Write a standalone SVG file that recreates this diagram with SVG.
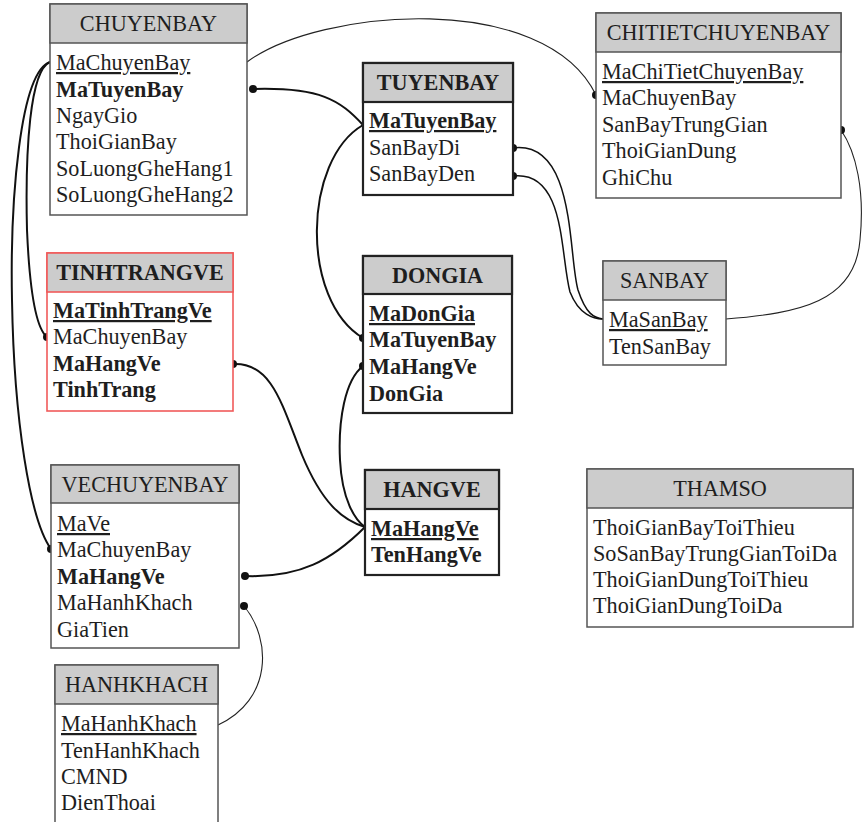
<svg xmlns="http://www.w3.org/2000/svg" width="863" height="822" viewBox="0 0 863 822">
  <defs>
    <style>
      .box { fill: #ffffff; stroke: #555555; stroke-width: 1.5; }
      .box.strong { stroke: #222222; stroke-width: 2.2; }
      .box.red { stroke: #f05a5a; stroke-width: 1.6; }
      .head { fill: #cccccc; stroke: #555555; stroke-width: 1.5; }
      .head.strong { stroke: #222222; stroke-width: 2.2; }
      .head.red { stroke: #f05a5a; stroke-width: 1.6; }
      text { font-family: "Liberation Serif", "Times New Roman", serif; font-size: 22.2px; fill: #1e1e1e; }
      .title { text-anchor: middle; }
      .b { font-weight: bold; }
      .u { text-decoration: underline; }
      .fk { fill: none; stroke: #111111; stroke-width: 2; }
      .thin { fill: none; stroke: #222222; stroke-width: 1.1; }
      .mid { fill: none; stroke: #111111; stroke-width: 1.5; }
      .dot { fill: #111111; }
    </style>
  </defs>

  <!-- relationships -->
  <g id="connectors">
    <path class="thin" d="M247,62 C320,8 545,-10 596,95"/>
    <path class="fk" d="M253,89 C320,87 340,100 363,125"/>
    <path class="fk" d="M363,125 C303,160 300,300 363,338"/>
    <path class="mid" d="M513,148 C576,140 568,255 578,290 C586,314 594,318 603,319"/>
    <path class="mid" d="M513,176 C566,170 560,255 570,292 C579,315 594,319 603,319"/>
    <path class="thin" d="M726,319 C800,313 855,302 860,240 C865,190 856,152 841,130"/>
    <path class="fk" d="M50,62 C30,70 25,150 27,230 C30,300 38,330 47,337"/>
    <path class="fk" d="M50,62 C20,72 10,200 12,300 C14,420 30,520 51,549"/>
    <path class="fk" d="M233,364 C272,362 282,405 302,455 C322,503 342,520 365,527"/>
    <path class="fk" d="M363,366 C345,380 338,420 340,460 C342,500 355,520 365,527"/>
    <path class="fk" d="M245,576 C300,578 332,560 365,527"/>
    <path class="thin" d="M244,606 C272,640 272,700 218,725"/>
    <circle class="dot" cx="253" cy="89" r="4"/>
    <circle class="dot" cx="596" cy="95" r="4"/>
    <circle class="dot" cx="363" cy="338" r="4"/>
    <circle class="dot" cx="513" cy="148" r="4"/>
    <circle class="dot" cx="513" cy="176" r="4"/>
    <circle class="dot" cx="841" cy="130" r="4"/>
    <circle class="dot" cx="47" cy="337" r="4"/>
    <circle class="dot" cx="51" cy="549" r="4"/>
    <circle class="dot" cx="233" cy="364" r="4"/>
    <circle class="dot" cx="363" cy="366" r="4"/>
    <circle class="dot" cx="245" cy="576" r="4"/>
    <circle class="dot" cx="244" cy="606" r="4"/>
  </g>

  <g id="CHUYENBAY">
    <rect class="box" x="50" y="4" width="197" height="211"/>
    <rect class="head" x="50" y="4" width="197" height="39"/>
    <text class="title" x="148.5" y="31">CHUYENBAY</text>
    <text class="u" x="56" y="70">MaChuyenBay</text>
    <text class="b" x="56" y="97">MaTuyenBay</text>
    <text x="56" y="123">NgayGio</text>
    <text x="56" y="149">ThoiGianBay</text>
    <text x="56" y="176">SoLuongGheHang1</text>
    <text x="56" y="202">SoLuongGheHang2</text>
  </g>

  <g id="TUYENBAY">
    <rect class="box strong" x="363" y="63" width="150" height="132"/>
    <rect class="head strong" x="363" y="63" width="150" height="39"/>
    <text class="title b" x="438" y="90">TUYENBAY</text>
    <text class="b u" x="369" y="128">MaTuyenBay</text>
    <text x="369" y="155">SanBayDi</text>
    <text x="369" y="181">SanBayDen</text>
  </g>

  <g id="CHITIETCHUYENBAY">
    <rect class="box" x="596" y="13" width="245" height="185"/>
    <rect class="head" x="596" y="13" width="245" height="39"/>
    <text class="title" x="718.5" y="40">CHITIETCHUYENBAY</text>
    <text class="u" x="602" y="79">MaChiTietChuyenBay</text>
    <text x="602" y="105">MaChuyenBay</text>
    <text x="602" y="132">SanBayTrungGian</text>
    <text x="602" y="158">ThoiGianDung</text>
    <text x="602" y="185">GhiChu</text>
  </g>

  <g id="TINHTRANGVE">
    <rect class="box red" x="47" y="253" width="186" height="158"/>
    <rect class="head red" x="47" y="253" width="186" height="39"/>
    <text class="title b" x="140" y="280">TINHTRANGVE</text>
    <text class="b u" x="53" y="318">MaTinhTrangVe</text>
    <text x="53" y="344">MaChuyenBay</text>
    <text class="b" x="53" y="371">MaHangVe</text>
    <text class="b" x="53" y="397">TinhTrang</text>
  </g>

  <g id="DONGIA">
    <rect class="box strong" x="363" y="256" width="149" height="157"/>
    <rect class="head strong" x="363" y="256" width="149" height="38"/>
    <text class="title b" x="437.5" y="283">DONGIA</text>
    <text class="b u" x="369" y="321">MaDonGia</text>
    <text class="b" x="369" y="347">MaTuyenBay</text>
    <text class="b" x="369" y="374">MaHangVe</text>
    <text class="b" x="369" y="401">DonGia</text>
  </g>

  <g id="SANBAY">
    <rect class="box" x="603" y="261" width="123" height="104"/>
    <rect class="head" x="603" y="261" width="123" height="39"/>
    <text class="title" x="664.5" y="288">SANBAY</text>
    <text class="u" x="609" y="327">MaSanBay</text>
    <text x="609" y="354">TenSanBay</text>
  </g>

  <g id="VECHUYENBAY">
    <rect class="box" x="51" y="465" width="188" height="183"/>
    <rect class="head" x="51" y="465" width="188" height="38"/>
    <text class="title" x="145" y="492">VECHUYENBAY</text>
    <text class="u" x="57" y="531">MaVe</text>
    <text x="57" y="557">MaChuyenBay</text>
    <text class="b" x="57" y="584">MaHangVe</text>
    <text x="57" y="610">MaHanhKhach</text>
    <text x="57" y="637">GiaTien</text>
  </g>

  <g id="HANGVE">
    <rect class="box strong" x="365" y="470" width="134" height="105"/>
    <rect class="head strong" x="365" y="470" width="134" height="39"/>
    <text class="title b" x="432" y="497">HANGVE</text>
    <text class="b u" x="371" y="536">MaHangVe</text>
    <text class="b" x="371" y="562">TenHangVe</text>
  </g>

  <g id="THAMSO">
    <rect class="box" x="587" y="469" width="266" height="158"/>
    <rect class="head" x="587" y="469" width="266" height="39"/>
    <text class="title" x="720" y="496">THAMSO</text>
    <text x="593" y="535">ThoiGianBayToiThieu</text>
    <text x="593" y="561">SoSanBayTrungGianToiDa</text>
    <text x="593" y="587">ThoiGianDungToiThieu</text>
    <text x="593" y="613">ThoiGianDungToiDa</text>
  </g>

  <g id="HANHKHACH">
    <rect class="box" x="55" y="665" width="163" height="170"/>
    <rect class="head" x="55" y="665" width="163" height="39"/>
    <text class="title" x="136.5" y="692">HANHKHACH</text>
    <text class="u" x="61" y="731">MaHanhKhach</text>
    <text x="61" y="758">TenHanhKhach</text>
    <text x="61" y="784">CMND</text>
    <text x="61" y="810">DienThoai</text>
  </g>
</svg>
